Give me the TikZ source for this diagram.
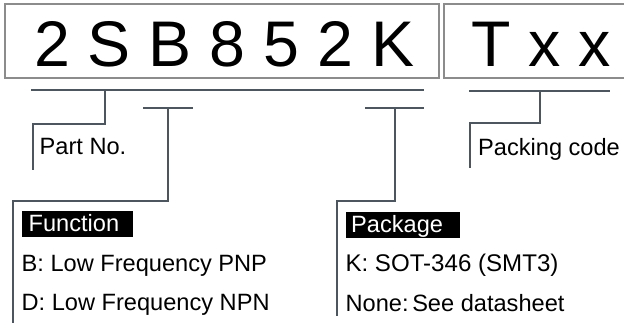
\documentclass[tikz,border=0pt]{standalone}
\usepackage{fontspec}
\setmainfont{Liberation Sans}
\definecolor{conn}{HTML}{4D555E}
\definecolor{boxc}{HTML}{8C8C8C}
\tikzset{
  codebox/.style={draw=boxc, line width=1.2pt, inner sep=0pt},
  bigtxt/.style={anchor=base west, inner sep=0pt, font=\fontsize{64.5}{70}\selectfont},
  smalltxt/.style={anchor=base west, inner sep=0pt, font=\fontsize{23.6}{26}\selectfont},
  tagbox/.style={fill=black, inner sep=0pt},
  tagtxt/.style={anchor=base west, inner sep=0pt, text=white, font=\fontsize{23.6}{26}\selectfont},
  connline/.style={draw=conn, line width=2.8pt}
}
\begin{document}
\begin{tikzpicture}[x=1pt,y=-1pt]
\useasboundingbox (0,0) rectangle (624,323);
% boxes
\node[codebox, minimum width=434pt, minimum height=74pt] (box1) at (222,41) {};
\node[codebox, minimum width=184pt, minimum height=74pt] (box2) at (536,41) {};
\node[bigtxt] (code) at (34,67) {2 S B 8 5 2 K};
\node[bigtxt] (pack) at (471,67) {T x x};
% labels
\node[smalltxt] (partno) at (39.5,155) {Part No.};
\node[smalltxt] (packing) at (478,156) {Packing code};
\node[tagbox, minimum width=111pt, minimum height=26pt] (funcbox) at (77.5,224) {};
\node[tagtxt] (functxt) at (28.5,232) {Function};
\node[smalltxt] (fb) at (21.5,272) {B: Low Frequency PNP};
\node[smalltxt] (fd) at (21.5,310) {D: Low Frequency NPN};
\node[tagbox, minimum width=114pt, minimum height=26pt] (pkgbox) at (403,225) {};
\node[tagtxt] (pkgtxt) at (351,233) {Package};
\node[smalltxt, font=\fontsize{24.1}{26}\selectfont] (pk) at (345.3,272) {K: SOT-346 (SMT3)};
\node[smalltxt] (pn) at (345.5,311) {None:\hspace{3.6pt}See datasheet};
% connector coordinates
\coordinate (a1) at (31,90);   \coordinate (a2) at (424,90);
\coordinate (a3) at (105,90);  \coordinate (a4) at (105,124);
\coordinate (a5) at (33,124);  \coordinate (a6) at (33,170);
\coordinate (b1) at (143,108); \coordinate (b2) at (193,108);
\coordinate (b3) at (168,108); \coordinate (b4) at (168,201);
\coordinate (b5) at (13,201);  \coordinate (b6) at (13,323);
\coordinate (c1) at (365,108); \coordinate (c2) at (424,108);
\coordinate (c3) at (395,108); \coordinate (c4) at (395,201);
\coordinate (c5) at (337,201); \coordinate (c6) at (337,316);
\coordinate (d1) at (469,91);  \coordinate (d2) at (610,91);
\coordinate (d3) at (540,91);  \coordinate (d4) at (540,123);
\coordinate (d5) at (470,123); \coordinate (d6) at (470,168);
% connectors
\draw[connline] (a1) -- (a2);
\draw[connline] (a3) -- (a4) -- (a5) -- (a6);
\draw[connline] (b1) -- (b2);
\draw[connline] (b3) -- (b4) -- (b5) -- (b6);
\draw[connline] (c1) -- (c2);
\draw[connline] (c3) -- (c4) -- (c5) -- (c6);
\draw[connline] (d1) -- (d2);
\draw[connline] (d3) -- (d4) -- (d5) -- (d6);
\end{tikzpicture}
\end{document}
